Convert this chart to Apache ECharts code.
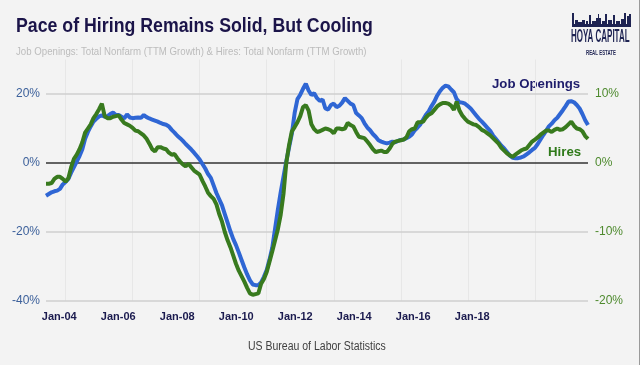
<!DOCTYPE html>
<html><head><meta charset="utf-8">
<script src="https://cdn.jsdelivr.net/npm/echarts@6/dist/echarts.min.js"></script>
<style>html,body{margin:0;padding:0;background:#f3f3f3}#c{width:640px;height:365px}</style>
</head><body><div id="c"></div>
<script>
// Monthly observations, Jun-2003 .. Aug-2019
const startYear = 2003, startMonth = 5; // June (0-based)
const monthNames = ['Jan','Feb','Mar','Apr','May','Jun','Jul','Aug','Sep','Oct','Nov','Dec'];

// Job Openings: Total Nonfarm, TTM growth (%), left axis
const jobOpenings = [
 -9.5,-9.0,-8.5,-8.2,-8.0,-7.5,-6.2,-5.5,-4.6,-2.8,
 -1.2,0.4,2.0,4.0,7.0,9.0,10.6,12.0,12.8,13.5,
 13.8,13.4,13.6,14.2,14.6,13.9,13.9,13.4,12.9,14.1,
 13.2,13.0,13.1,13.2,13.1,13.9,13.3,12.9,12.6,12.3,
 12.0,11.6,11.3,11.1,10.6,9.6,8.8,7.9,7.2,6.4,
 5.5,4.7,3.9,3.0,2.0,1.0,-0.3,-1.6,-3.2,-4.3,
 -6.5,-8.7,-10.5,-12.3,-14.8,-17.3,-19.8,-22.0,-23.8,-25.9,
 -28.1,-30.3,-32.3,-34.0,-35.2,-35.4,-35.4,-34.6,-33.0,-31.0,
 -28.0,-24.5,-19.0,-13.5,-8.5,-4.0,0.5,4.5,8.5,14.5,
 18.5,19.8,21.5,23.0,21.0,19.7,20.2,18.8,18.0,18.4,
 15.8,15.5,16.8,17.2,16.2,16.6,17.5,18.8,18.0,17.2,
 16.8,14.5,13.8,13.0,11.5,10.3,9.5,8.4,7.6,6.6,
 6.2,5.9,5.7,5.9,6.2,6.0,6.4,6.7,6.8,7.2,
 7.6,8.3,9.5,10.3,11.2,12.6,14.0,15.0,16.5,17.8,
 19.5,20.8,21.8,22.4,22.2,21.3,20.5,18.5,17.6,17.5,
 17.2,16.5,15.8,14.8,13.8,12.8,12.0,11.1,10.2,9.3,
 8.0,7.0,6.0,5.0,4.2,3.2,2.2,1.5,1.4,1.4,
 1.6,1.9,2.5,3.1,3.8,4.4,5.5,6.8,8.1,9.3,
 10.6,11.4,12.4,13.1,14.2,15.3,16.5,17.8,17.9,17.6,
 16.8,15.8,14.2,12.4,11.0
];

// Hires: Total Nonfarm, TTM growth (%), right axis
const hires = [
 -3.0,-3.0,-2.9,-2.3,-2.0,-2.0,-2.3,-2.7,-2.2,-0.6,
 0.6,1.2,2.0,3.0,4.4,5.0,5.6,6.5,7.1,7.8,
 8.6,6.8,6.5,6.5,6.7,6.8,6.9,6.3,5.8,5.6,
 5.4,5.1,4.7,4.6,4.3,4.0,3.5,2.8,2.0,1.7,
 2.3,2.3,2.1,2.0,1.5,1.2,1.3,0.7,0.2,-0.2,
 -0.5,-0.1,-0.6,-1.1,-1.4,-1.7,-2.6,-3.4,-4.3,-4.8,
 -5.2,-6.0,-7.4,-8.5,-10.0,-11.2,-12.2,-13.4,-14.6,-15.6,
 -16.4,-17.2,-18.1,-18.9,-19.1,-19.0,-18.9,-17.5,-16.8,-15.8,
 -14.3,-12.8,-11.2,-9.6,-7.5,-4.5,0.0,2.6,4.6,5.2,
 5.9,6.8,8.1,8.4,7.6,5.6,4.9,4.5,4.6,4.8,
 5.0,4.9,4.7,4.3,5.0,5.0,4.9,5.0,5.8,5.5,
 5.3,4.5,3.8,3.7,3.6,3.1,2.6,2.0,1.6,1.7,
 1.8,1.6,1.6,2.1,2.8,3.1,3.2,3.3,3.4,3.7,
 4.6,4.9,5.0,5.9,5.9,6.0,6.6,7.0,7.2,7.7,
 8.2,8.5,8.7,8.7,8.6,8.3,7.7,8.9,7.6,6.9,
 6.4,6.0,5.8,5.6,5.5,5.2,4.8,4.6,4.3,4.0,
 3.6,3.2,2.8,2.2,1.8,1.4,1.1,0.9,1.2,1.5,
 1.8,2.0,2.1,2.6,3.1,3.4,3.7,4.1,4.4,4.7,
 4.7,4.5,4.8,5.0,4.8,4.9,5.2,5.6,6.0,5.4,
 5.0,4.9,4.6,3.9,3.5
];

const xTickLabels = ['Jan-04','Jan-06','Jan-08','Jan-10','Jan-12','Jan-14','Jan-16','Jan-18'];
const leftTicks = [-40, -20, 0, 20];
const rightTicks = [-20, -10, 0, 10];

const months = [];
for (let i = 0; i < jobOpenings.length; i++) {
  const m = (startMonth + i) % 12, y = startYear + Math.floor((startMonth + i) / 12);
  months.push(monthNames[m] + '-' + String(y).slice(2));
}
const firstJanIndex = months.indexOf('Jan-04');

const SANS = '"Liberation Sans",Arial,sans-serif';

const skyline = [
  [572,2,13],[575,3,20],[578,4,22],[582,3,20],[586,2,21],[589,2,15],[592,4,21],
  [596,5,18],[598,1,14],[602,3,21],[605,2,14],[608,4,20],[613,2,15],[616,4,21],
  [621,3,19],[624,2,13],[627,2,16],[629,2,14]
];

function txt(text, x, y, font, fill, sx) {
  return {type:'text', x:x, y:y, scaleX:sx, style:{text:text, font:font, fill:fill, verticalAlign:'middle'}};
}

const graphic = [
  txt('Pace of Hiring Remains Solid, But Cooling', 16, 26, 'bold 21px ' + SANS, '#1b1449', 0.845),
  txt('Job Openings: Total Nonfarm (TTM Growth) & Hires: Total Nonfarm (TTM Growth)', 16, 52, '11.5px ' + SANS, '#bcbcbc', 0.84),
  txt('US Bureau of Labor Statistics', 248, 347, '12.5px ' + SANS, '#404040', 0.84),
  txt('Job Openings', 492, 84, 'bold 13.5px ' + SANS, '#1e1c6b', 0.98),
  txt('Hires', 548, 152, 'bold 13.5px ' + SANS, '#2f7a1a', 0.98),
  {type:'rect', shape:{x:572, y:24, width:59, height:3}, style:{fill:'#1e2352'}},
  txt('HOYA CAPITAL', 571, 37, 'bold 19px ' + SANS, '#1e2352', 0.42),
  txt('REAL ESTATE', 586, 53, 'bold 8px ' + SANS, '#1e2352', 0.55),
  {type:'rect', shape:{x:639, y:0, width:1, height:365}, style:{fill:'#9a9a9a'}}
];
skyline.forEach(b => graphic.push({type:'rect', shape:{x:b[0], y:b[2], width:b[1], height:25 - b[2]}, style:{fill:'#1e2352'}}));

const gridLines = leftTicks.map(v => ({yAxis: v, lineStyle: v === 0 ? {color:'#333333', width:1.5, type:'solid'} : {color:'#cfcfcf', width:1.5, type:'solid'}}));

const chart = echarts.init(document.getElementById('c'), null, {renderer:'canvas'});
chart.setOption({
  backgroundColor: '#f3f3f3',
  animation: false,
  graphic: graphic,
  grid: [
    {left:46, right:52, top:59.5, bottom:64, containLabel:false},
    {left:59.3, right:167.7, top:59.5, bottom:64, containLabel:false}
  ],
  xAxis: [
    {type:'category', gridIndex:0, data:months, boundaryGap:false,
     axisLine:{show:false}, axisTick:{show:false}, axisLabel:{show:false},
     splitLine:{show:true, interval:(i) => (i - firstJanIndex) % 24 === 0 && i >= firstJanIndex, lineStyle:{color:'#e7e7e7', width:1}}},
    {type:'category', gridIndex:1, data:xTickLabels, boundaryGap:false,
     axisLine:{show:false}, axisTick:{show:false}, splitLine:{show:false},
     axisLabel:{show:true, interval:0, margin:10, color:'#1b1b4f', fontWeight:'bold', fontSize:11, fontFamily:SANS}}
  ],
  yAxis: [
    {type:'value', gridIndex:0, min:-40, max:30, interval:20, position:'left',
     axisLine:{show:false}, axisTick:{show:false}, splitLine:{show:false},
     axisLabel:{showMaxLabel:false, margin:6, color:'#3d619b', fontSize:12, fontFamily:SANS, formatter:(v) => v + '%'}},
    {type:'value', gridIndex:0, min:-20, max:15, interval:10, position:'right',
     axisLine:{show:false}, axisTick:{show:false}, splitLine:{show:false},
     axisLabel:{showMaxLabel:false, margin:7, color:'#4e8a2e', fontSize:12, fontFamily:SANS, formatter:(v) => v + '%'}},
    {type:'value', gridIndex:1, show:false, min:0, max:1}
  ],
  series: [
    {name:'Job Openings', type:'line', xAxisIndex:0, yAxisIndex:0, data:jobOpenings, symbol:'none',
     lineStyle:{color:'#2f66d4', width:4}, z:3,
     markLine:{silent:true, symbol:'none', label:{show:false}, data:gridLines, z:1, animation:false}},
    {name:'Hires', type:'line', xAxisIndex:0, yAxisIndex:1, data:hires, symbol:'none',
     lineStyle:{color:'#387a1e', width:4}, z:4}
  ]
});
</script></body></html>
